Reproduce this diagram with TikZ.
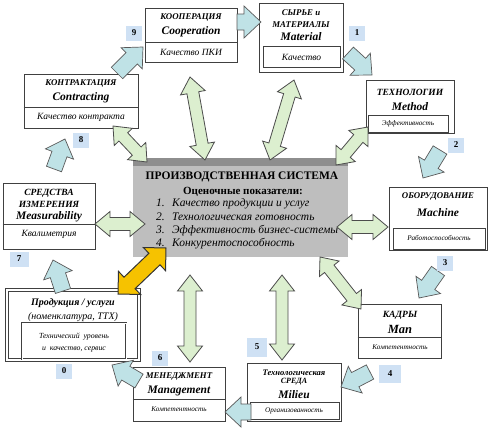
\documentclass[tikz,border=0pt]{standalone}
\usepackage{fontspec}
\setmainfont{Liberation Serif}
\usetikzlibrary{calc,shadows}
\definecolor{cyanarr}{HTML}{BFE2E6}
\definecolor{greenarr}{HTML}{DCEFCF}
\definecolor{yellowarr}{HTML}{F6C200}
\definecolor{centgray}{HTML}{BEBEBE}
\definecolor{bandgray}{HTML}{8E8E8E}
\definecolor{numbg}{HTML}{CFE1F4}
\newcommand\blockarrow[6]{%
  \draw[#1] ($(#2)!#4!90:(#3)$) -- ($(#3)!#6!(#2)!#4!90:(#3)$) -- ($(#3)!#6!(#2)!#5!90:(#3)$) -- (#3)
   -- ($(#3)!#6!(#2)!#5!-90:(#3)$) -- ($(#3)!#6!(#2)!#4!-90:(#3)$) -- ($(#2)!#4!-90:(#3)$) -- cycle;}
\newcommand\dblarrow[6]{%
  \draw[#1] (#2) -- ($(#2)!#6!(#3)!#5!90:(#3)$) -- ($(#2)!#6!(#3)!#4!90:(#3)$)
   -- ($(#3)!#6!(#2)!#4!-90:(#2)$) -- ($(#3)!#6!(#2)!#5!-90:(#2)$) -- (#3)
   -- ($(#3)!#6!(#2)!#5!90:(#2)$) -- ($(#3)!#6!(#2)!#4!90:(#2)$)
   -- ($(#2)!#6!(#3)!#4!-90:(#3)$) -- ($(#2)!#6!(#3)!#5!-90:(#3)$) -- cycle;}
\begin{document}
\begin{tikzpicture}[x=1pt,y=-1pt,
  box/.style={draw=black!75, line width=0.9pt, fill=white, inner sep=0pt,
    drop shadow={shadow xshift=1.2pt, shadow yshift=-1.2pt, fill=black!45, opacity=0.6}},
  inbox/.style={draw=black!75, line width=0.8pt, inner sep=0pt},
  divl/.style={draw=black!75, line width=0.8pt},
  cyanA/.style={fill=cyanarr, draw=black!65, line width=0.7pt, line join=miter},
  greenA/.style={fill=greenarr, draw=black!70, line width=0.8pt, line join=miter},
  yellowA/.style={fill=yellowarr, draw=black!80, line width=1pt, line join=miter},
  numl/.style={fill=numbg, minimum width=16pt, minimum height=15pt, inner sep=0pt,
    font=\bfseries\fontsize{9}{9}\selectfont},
  caps/.style={inner sep=0pt, font=\bfseries\itshape\fontsize{8.8}{9}\selectfont},
  eng/.style={inner sep=0pt, font=\bfseries\itshape\fontsize{11.5}{12}\selectfont},
  qual/.style={inner sep=0pt, font=\itshape\fontsize{9.5}{10}\selectfont},
  small/.style={inner sep=0pt, font=\itshape\fontsize{7.2}{8}\selectfont},
  ctitle/.style={inner sep=0pt, font=\bfseries\fontsize{11.5}{12}\selectfont},
  citem/.style={inner sep=0pt, anchor=base west, font=\itshape\fontsize{11.5}{12}\selectfont},
  cnum/.style={inner sep=0pt, anchor=base east, font=\itshape\fontsize{11.5}{12}\selectfont}]
\useasboundingbox (0,0) rectangle (500,439);

% ---------- central box ----------
\node[fill=centgray, minimum width=215pt, minimum height=99pt, inner sep=0pt] (cen) at (240.5,207.5) {};
\fill[bandgray] (cen.north west) rectangle ($(cen.north east)+(0,8)$);
\node[ctitle] (ct) at (242,177) {ПРОИЗВОДСТВЕННАЯ СИСТЕМА};
\node[ctitle, font=\bfseries\fontsize{11}{12}\selectfont] (cs) at (243,192) {Оценочные показатели:};
\node[cnum] (n1) at (165,206) {1.}; \node[citem] (i1) at (172,206) {Качество продукции и услуг};
\node[cnum] (n2) at (165,220) {2.}; \node[citem] (i2) at (172,220) {Технологическая готовность};
\node[cnum] (n3) at (165,233) {3.}; \node[citem] (i3) at (172,233) {Эффективность бизнес-системы};
\node[cnum] (n4) at (165,246) {4.}; \node[citem] (i4) at (172,246) {Конкурентоспособность};

% ---------- boxes ----------
% Cooperation
\node[box, minimum width=92pt, minimum height=54pt] (coop) at (191,35) {};
\draw[divl] (coop.west |- 0,42) -- (coop.east |- 0,42);
\node[caps] at (191,18) {КООПЕРАЦИЯ};
\node[eng] at (191,32) {Cooperation};
\node[qual] at (191,52) {Качество ПКИ};
% Contracting
\node[box, minimum width=114pt, minimum height=54pt] (contr) at (81,101) {};
\draw[divl] (contr.west |- 0,107) -- (contr.east |- 0,107);
\node[caps] at (81,84) {КОНТРАКТАЦИЯ};
\node[eng] at (81,98) {Contracting};
\node[qual] at (81,117) {Качество контракта};
% Material
\node[box, minimum width=84pt, minimum height=69pt] (mat) at (301,37.5) {};
\node[inbox, minimum width=77pt, minimum height=21pt] (matq) at (301.5,56.5) {};
\node[caps] at (301,13) {СЫРЬЕ и};
\node[caps] at (301,25) {МАТЕРИАЛЫ};
\node[eng] at (301,37) {Material};
\node[qual] at (301.5,57) {Качество};
% Method
\node[box, minimum width=88pt, minimum height=53pt] (tech) at (410,106.5) {};
\node[inbox, minimum width=80pt, minimum height=17pt] (techq) at (408,123.5) {};
\node[caps, font=\bfseries\itshape\fontsize{9.5}{10}\selectfont] at (410,92) {ТЕХНОЛОГИИ};
\node[eng] at (410,107) {Method};
\node[small] at (408,124) {Эффективность};
% Measurability
\node[box, minimum width=92pt, minimum height=66pt] (meas) at (49,216) {};
\draw[divl] (meas.west |- 0,224) -- (meas.east |- 0,224);
\node[caps, font=\bfseries\itshape\fontsize{9.5}{10}\selectfont] at (49,193) {СРЕДСТВА};
\node[caps, font=\bfseries\itshape\fontsize{9.5}{10}\selectfont] at (49,204) {ИЗМЕРЕНИЯ};
\node[eng] at (49,217) {Measurability};
\node[qual] at (49,234) {Квалиметрия};
% Machine
\node[box, minimum width=98pt, minimum height=63pt] (mach) at (438,218.5) {};
\node[inbox, minimum width=92pt, minimum height=21pt] (machq) at (439,238.5) {};
\node[caps] at (438,197) {ОБОРУДОВАНИЕ};
\node[eng] at (438,213) {Machine};
\node[small] at (439,238) {Работоспособность};
% Product
\node[box, minimum width=132pt, minimum height=70pt, double=white, double distance=1.2pt, line width=1pt] (prod) at (73,325) {};
\node[inbox, minimum width=104pt, minimum height=36pt, double=white, double distance=1pt, line width=0.8pt] (prodq) at (74,341) {};
\node[inner sep=0pt, font=\bfseries\itshape\fontsize{10}{11}\selectfont] at (73,303) {Продукция / услуги};
\node[inner sep=0pt, font=\itshape\fontsize{10}{11}\selectfont] at (73,317) {(номенклатура, ТТХ)};
\node[small, font=\itshape\fontsize{7.8}{8}\selectfont] at (74,337) {Технический\ \ уровень};
\node[small, font=\itshape\fontsize{7.8}{8}\selectfont] at (74,349) {и\ \ качество, сервис};
% Management
\node[box, minimum width=92pt, minimum height=54pt] (man) at (179,394) {};
\draw[divl] (man.west |- 0,399) -- (man.east |- 0,399);
\node[caps] at (179,377) {МЕНЕДЖМЕНТ};
\node[eng] at (179,391) {Management};
\node[small] at (179,409) {Компетентность};
% Man
\node[box, minimum width=83pt, minimum height=54pt] (kadry) at (399.5,331) {};
\draw[divl] (kadry.west |- 0,337) -- (kadry.east |- 0,337);
\node[caps, font=\bfseries\itshape\fontsize{9.5}{10}\selectfont] at (400,315) {КАДРЫ};
\node[eng, font=\bfseries\itshape\fontsize{12.5}{13}\selectfont] at (400,329) {Man};
\node[small] at (400,347) {Компетентность};
% Milieu
\node[box, minimum width=94pt, minimum height=58pt] (env) at (294,392) {};
\node[inbox, minimum width=89pt, minimum height=17pt] (envq) at (294.5,410.5) {};
\node[caps, font=\bfseries\itshape\fontsize{8.5}{9}\selectfont] at (294,373) {Технологическая};
\node[caps, font=\bfseries\itshape\fontsize{8}{9}\selectfont] at (294,382) {СРЕДА};
\node[eng] at (294,395) {Milieu};
\node[small] at (294,411) {Организованность};

% ---------- green double arrows (box <-> system) ----------
\coordinate (g1a) at (113,126); \coordinate (g1b) at (147,162);
\coordinate (g2a) at (190,77);  \coordinate (g2b) at (205,160);
\coordinate (g3a) at (294,80);  \coordinate (g3b) at (270,160);
\coordinate (g4a) at (368,127); \coordinate (g4b) at (336,165);
\coordinate (g5a) at (95,224);  \coordinate (g5b) at (145,224);
\coordinate (g6a) at (388,227); \coordinate (g6b) at (337,227);
\coordinate (g7a) at (361,309); \coordinate (g7b) at (320,257);
\coordinate (g8a) at (190,362); \coordinate (g8b) at (190,275);
\coordinate (g9a) at (282,360); \coordinate (g9b) at (282,275);
\dblarrow{greenA}{g1a}{g1b}{6pt}{12.5pt}{15pt}
\dblarrow{greenA}{g2a}{g2b}{6pt}{12.5pt}{16pt}
\dblarrow{greenA}{g3a}{g3b}{6pt}{12.5pt}{16pt}
\dblarrow{greenA}{g4a}{g4b}{6pt}{12.5pt}{15pt}
\dblarrow{greenA}{g5a}{g5b}{6.5pt}{12.5pt}{15pt}
\dblarrow{greenA}{g6a}{g6b}{6.5pt}{12.5pt}{15pt}
\dblarrow{greenA}{g7a}{g7b}{6pt}{12.5pt}{15pt}
\dblarrow{greenA}{g8a}{g8b}{6pt}{12.5pt}{16pt}
\dblarrow{greenA}{g9a}{g9b}{6pt}{12.5pt}{16pt}
% yellow
\coordinate (ya) at (118,294); \coordinate (yb) at (166,248);
\dblarrow{yellowA}{ya}{yb}{8pt}{16pt}{16pt}

% ---------- cyan cycle arrows ----------
\coordinate (c1a) at (237,22);  \coordinate (c1b) at (261,22);
\coordinate (c2a) at (348,53);  \coordinate (c2b) at (372,75);
\coordinate (c3a) at (440,150); \coordinate (c3b) at (423,178);
\coordinate (c4a) at (438,271); \coordinate (c4b) at (419,298);
\coordinate (c5a) at (370,372); \coordinate (c5b) at (341,387);
\coordinate (c6a) at (251,412); \coordinate (c6b) at (225,412);
\coordinate (c7a) at (139,381); \coordinate (c7b) at (112,365);
\coordinate (c8a) at (63,291);  \coordinate (c8b) at (53,260);
\coordinate (c9a) at (54,169);  \coordinate (c9b) at (65,139);
\coordinate (c10a) at (117,73); \coordinate (c10b) at (143,47);
\blockarrow{cyanA}{c1a}{c1b}{8pt}{16pt}{17pt}
\blockarrow{cyanA}{c2a}{c2b}{8pt}{15pt}{16pt}
\blockarrow{cyanA}{c3a}{c3b}{8pt}{15pt}{16pt}
\blockarrow{cyanA}{c4a}{c4b}{8pt}{15pt}{16pt}
\blockarrow{cyanA}{c5a}{c5b}{8pt}{15pt}{16pt}
\blockarrow{cyanA}{c6a}{c6b}{8pt}{15pt}{16pt}
\blockarrow{cyanA}{c7a}{c7b}{8pt}{15pt}{16pt}
\blockarrow{cyanA}{c8a}{c8b}{8pt}{15pt}{16pt}
\blockarrow{cyanA}{c9a}{c9b}{8pt}{15pt}{16pt}
\blockarrow{cyanA}{c10a}{c10b}{8pt}{15pt}{16pt}

% ---------- number labels ----------
\node[numl] (l9) at (134,33) {9};
\node[numl] (l8) at (81,140) {8};
\node[numl] (l1) at (357,33) {1};
\node[numl] (l2) at (456,145) {2};
\node[numl] (l3) at (445,263) {3};
\node[numl, minimum width=22pt, minimum height=18pt] (l4) at (390,374) {4};
\node[numl, minimum width=20pt, minimum height=19pt] (l5) at (257,347) {5};
\node[numl] (l6) at (160,358) {6};
\node[numl] (l0) at (64,371) {0};
\node[numl, minimum width=19pt] (l7) at (19,259) {7};
\end{tikzpicture}
\end{document}
